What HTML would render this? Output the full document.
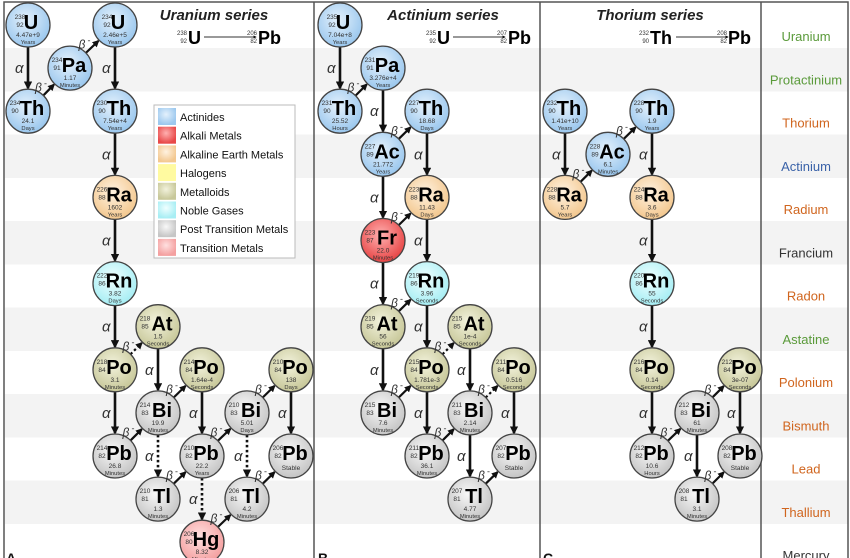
<!DOCTYPE html>
<html><head><meta charset="utf-8"><style>
html,body{margin:0;padding:0;background:#fff}
svg{display:block}
text{font-family:"Liberation Sans","DejaVu Sans",sans-serif}
</style></head><body>
<svg id="s" width="850" height="558" viewBox="0 0 850 558" xmlns="http://www.w3.org/2000/svg">
<defs>
<marker id="ah" viewBox="0 0 10 10" refX="8" refY="5" markerWidth="3.2" markerHeight="3.2" orient="auto"><path d="M0,0 L10,5 L0,10 z" fill="#111"/></marker>
</defs>
<g id="bg"></g>
<g id="edges"></g>
<g id="nodes"></g>
<g id="txt"></g>
</svg>
<script>
const NS="http://www.w3.org/2000/svg";
function el(p,t,a,txt){const e=document.createElementNS(NS,t);for(const k in a)e.setAttribute(k,a[k]);if(txt!==undefined)e.textContent=txt;p.appendChild(e);return e;}
const bg=document.getElementById('bg'),E=document.getElementById('edges'),N=document.getElementById('nodes'),T=document.getElementById('txt');
const defs=document.querySelector('defs');
// stripes
for(let k=1;k<=11;k+=2){const y=48+43.25*(k-1);el(bg,'rect',{x:5,y:y,width:843,height:43.5,fill:'#f3f3f3'});}
// frame
el(bg,'rect',{x:4,y:2,width:844,height:570,fill:'none',stroke:'#555','stroke-width':1.5});
[314,540,761].forEach(x=>el(bg,'line',{x1:x,y1:2,x2:x,y2:558,stroke:'#555','stroke-width':1.5}));
// colors
const C={act:['#e4f1fc','#9cc8ee'],alk:['#ffb0b0','#e84848'],ae:['#fff2e0','#f3c890'],met:['#f2f2dc','#c8c89a'],nob:['#f0ffff','#a8eef4'],post:['#f8f8f8','#c6c6c6'],tr:['#ffe0e0','#f4a0a0']};
for(const k in C){const g=el(defs,'radialGradient',{id:'g'+k,cx:'45%',cy:'38%',r:'60%'});el(g,'stop',{offset:'0%','stop-color':C[k][0]});el(g,'stop',{offset:'100%','stop-color':C[k][1]});}
const Y=k=>25+43.1*k;
const R=22;
function node(x,k,m,z,sym,hl,unit,col){const y=Y(k);
 el(N,'circle',{cx:x,cy:y,r:R,fill:'url(#g'+col+')',stroke:'#444','stroke-width':1.3});
 const w=sym.length>1?1:0;
 el(N,'text',{x:x-13+(w?0:5),y:y-6,'font-size':6.5,fill:'#333','text-anchor':'middle'},m);
 el(N,'text',{x:x-13+(w?0:5),y:y+2,'font-size':6.5,fill:'#333','text-anchor':'middle'},z);
 el(N,'text',{x:x+(w?4:3),y:y+4,'font-size':20,'font-weight':'bold',fill:'#000','text-anchor':'middle'},sym);
 if(unit){el(N,'text',{x:x,y:y+12,'font-size':6.5,fill:'#333','text-anchor':'middle'},hl);
 el(N,'text',{x:x,y:y+19,'font-size':5.8,fill:'#333','text-anchor':'middle'},unit);}
 else el(N,'text',{x:x,y:y+14,'font-size':6.5,fill:'#333','text-anchor':'middle'},hl);
}
function arrow(x1,k1,x2,k2,type,dot){const y1=Y(k1),y2=Y(k2);const dx=x2-x1,dy=y2-y1,L=Math.hypot(dx,dy),ux=dx/L,uy=dy/L;
 const a={x1:x1+ux*R,y1:y1+uy*R,x2:x2-ux*(R+1),y2:y2-uy*(R+1),stroke:'#111','stroke-width':type=='a'?2.6:2.2,'marker-end':'url(#ah)'};
 if(dot)a['stroke-dasharray']='2.5,2.5';
 el(E,'line',a);
 if(type=='a'){el(T,'text',{x:(x1+x2)/2-13,y:(y1+y2)/2+5,'font-size':15,'font-style':'italic',fill:'#333','font-family':'DejaVu Serif,serif'},'α');}
 else{const mx=(x1+x2)/2,my=(y1+y2)/2;el(T,'text',{x:mx-14,y:my+2,'font-size':12,'font-style':'italic',fill:'#333','font-family':'DejaVu Serif,serif'},'β');
 el(T,'text',{x:mx-5,y:my-3,'font-size':9,fill:'#333'},'-');}
}
function series(cols,nodes,edges){const idx={};nodes.forEach(n=>{idx[n[0]]=n;});
 edges.forEach(e=>{const a=idx[e[0]],b=idx[e[1]];arrow(cols[a[1]],a[2],cols[b[1]],b[2],e[2],e[3]);});
 nodes.forEach(n=>node(cols[n[1]],n[2],n[3],n[4],n[5],n[6],n[7],n[8]));}
// Uranium
series([28,70,115,158,202,247,291],[
['U238',0,0,'238','92','U','4.47e+9','Years','act'],
['Th234',0,2,'234','90','Th','24.1','Days','act'],
['Pa234',1,1,'234','91','Pa','1.17','Minutes','act'],
['U234',2,0,'234','92','U','2.46e+5','Years','act'],
['Th230',2,2,'230','90','Th','7.54e+4','Years','act'],
['Ra226',2,4,'226','88','Ra','1602','Years','ae'],
['Rn222',2,6,'222','86','Rn','3.82','Days','nob'],
['Po218',2,8,'218','84','Po','3.1','Minutes','met'],
['At218',3,7,'218','85','At','1.5','Seconds','met'],
['Pb214',2,10,'214','82','Pb','26.8','Minutes','post'],
['Bi214',3,9,'214','83','Bi','19.9','Minutes','post'],
['Po214',4,8,'214','84','Po','1.64e-4','Seconds','met'],
['Tl210',3,11,'210','81','Tl','1.3','Minutes','post'],
['Pb210',4,10,'210','82','Pb','22.2','Years','post'],
['Hg206',4,12,'206','80','Hg','8.32','Minutes','tr'],
['Bi210',5,9,'210','83','Bi','5.01','Days','post'],
['Tl206',5,11,'206','81','Tl','4.2','Minutes','post'],
['Po210',6,8,'210','84','Po','138','Days','met'],
['Pb206',6,10,'206','82','Pb','Stable','','post']
],[
['U238','Th234','a'],['Th234','Pa234','b'],['Pa234','U234','b'],['U234','Th230','a'],['Th230','Ra226','a'],['Ra226','Rn222','a'],['Rn222','Po218','a'],
['Po218','At218','b',1],['Po218','Pb214','a'],['At218','Bi214','a'],['Pb214','Bi214','b'],['Bi214','Po214','b'],['Bi214','Tl210','a',1],['Po214','Pb210','a'],
['Tl210','Pb210','b'],['Pb210','Bi210','b'],['Pb210','Hg206','a',1],['Bi210','Tl206','a',1],['Bi210','Po210','b'],['Hg206','Tl206','b'],['Tl206','Pb206','b'],['Po210','Pb206','a']
]);
// Actinium
series([340,383,427,470,514],[
['U235',0,0,'235','92','U','7.04e+8','Years','act'],
['Th231',0,2,'231','90','Th','25.52','Hours','act'],
['Pa231',1,1,'231','91','Pa','3.276e+4','Years','act'],
['Ac227',1,3,'227','89','Ac','21.772','Years','act'],
['Th227',2,2,'227','90','Th','18.68','Days','act'],
['Fr223',1,5,'223','87','Fr','22.0','Minutes','alk'],
['Ra223',2,4,'223','88','Ra','11.43','Days','ae'],
['Rn219',2,6,'219','86','Rn','3.96','Seconds','nob'],
['At219',1,7,'219','85','At','56','Seconds','met'],
['Bi215',1,9,'215','83','Bi','7.6','Minutes','post'],
['Po215',2,8,'215','84','Po','1.781e-3','Seconds','met'],
['At215',3,7,'215','85','At','1e-4','Seconds','met'],
['Pb211',2,10,'211','82','Pb','36.1','Minutes','post'],
['Bi211',3,9,'211','83','Bi','2.14','Minutes','post'],
['Po211',4,8,'211','84','Po','0.516','Seconds','met'],
['Tl207',3,11,'207','81','Tl','4.77','Minutes','post'],
['Pb207',4,10,'207','82','Pb','Stable','','post']
],[
['U235','Th231','a'],['Th231','Pa231','b'],['Pa231','Ac227','a'],['Ac227','Th227','b'],['Ac227','Fr223','a'],['Th227','Ra223','a'],['Fr223','Ra223','b'],
['Ra223','Rn219','a'],['Fr223','At219','a'],['At219','Rn219','b'],['Rn219','Po215','a'],['At219','Bi215','a'],['Bi215','Po215','b'],['Po215','At215','b',1],
['Po215','Pb211','a'],['At215','Bi211','a'],['Pb211','Bi211','b'],['Bi211','Po211','b',1],['Bi211','Tl207','a'],['Po211','Pb207','a'],['Tl207','Pb207','b']
]);
// Thorium
series([565,608,652,697,740],[
['Th232',0,2,'232','90','Th','1.41e+10','Years','act'],
['Ra228',0,4,'228','88','Ra','5.7','Years','ae'],
['Ac228',1,3,'228','89','Ac','6.1','Minutes','act'],
['Th228',2,2,'228','90','Th','1.9','Years','act'],
['Ra224',2,4,'224','88','Ra','3.6','Days','ae'],
['Rn220',2,6,'220','86','Rn','55','Seconds','nob'],
['Po216',2,8,'216','84','Po','0.14','Seconds','met'],
['Pb212',2,10,'212','82','Pb','10.6','Hours','post'],
['Bi212',3,9,'212','83','Bi','61','Minutes','post'],
['Po212',4,8,'212','84','Po','3e-07','Seconds','met'],
['Tl208',3,11,'208','81','Tl','3.1','Minutes','post'],
['Pb208',4,10,'208','82','Pb','Stable','','post']
],[
['Th232','Ra228','a'],['Ra228','Ac228','b'],['Ac228','Th228','b'],['Th228','Ra224','a'],['Ra224','Rn220','a'],['Rn220','Po216','a'],['Po216','Pb212','a'],
['Pb212','Bi212','b'],['Bi212','Po212','b'],['Bi212','Tl208','a'],['Po212','Pb208','a'],['Tl208','Pb208','b']
]);
// titles
[[214,'Uranium series'],[443,'Actinium series'],[650,'Thorium series']].forEach(t=>el(T,'text',{x:t[0],y:20,'font-size':15,'font-weight':'bold','font-style':'italic',fill:'#222','text-anchor':'middle'},t[1]));
function formula(x,m1,z1,s1,x2,m2,z2,s2){const y=44;
 el(T,'text',{x:x,y:y-9,'font-size':6,fill:'#333','text-anchor':'end'},m1);el(T,'text',{x:x,y:y-1,'font-size':6,fill:'#333','text-anchor':'end'},z1);
 el(T,'text',{x:x+1,y:y,'font-size':18,'font-weight':'bold',fill:'#000'},s1);
 const ax=x+(s1.length>1?27:17);el(E,'line',{x1:ax,y1:y-7,x2:ax+52,y2:y-7,stroke:'#333','stroke-width':1,'marker-end':'url(#ah)'});
 el(T,'text',{x:x2,y:y-9,'font-size':6,fill:'#333','text-anchor':'end'},m2);el(T,'text',{x:x2,y:y-1,'font-size':6,fill:'#333','text-anchor':'end'},z2);
 el(T,'text',{x:x2+1,y:y,'font-size':18,'font-weight':'bold',fill:'#000'},s2);}
formula(187,'238','92','U',257,'206','82','Pb');
formula(436,'235','92','U',507,'207','82','Pb');
formula(649,'232','90','Th',727,'208','82','Pb');
// legend
el(T,'rect',{x:154,y:105,width:141,height:153,fill:'#fff',stroke:'#bbb','stroke-width':1});
[['act','Actinides'],['alk','Alkali Metals'],['ae','Alkaline Earth Metals'],['hal','Halogens'],['met','Metalloids'],['nob','Noble Gases'],['post','Post Transition Metals'],['tr','Transition Metals']].forEach((l,i)=>{const y=108+i*18.7;
 const f=l[0]=='hal'?'#fffaa0':'url(#g'+l[0]+')';el(T,'rect',{x:158,y:y,width:18,height:17,fill:f});
 el(T,'text',{x:180,y:y+13,'font-size':11,fill:'#111'},l[1]);});
// right labels
[['Uranium','#5a9a3a'],['Protactinium','#5a9a3a'],['Thorium','#d0651e'],['Actinium','#3a62a8'],['Radium','#d0651e'],['Francium','#333'],['Radon','#d0651e'],['Astatine','#5a9a3a'],['Polonium','#d0651e'],['Bismuth','#d0651e'],['Lead','#d0651e'],['Thallium','#d0651e'],['Mercury','#333']].forEach((l,i)=>{
 el(T,'text',{x:806,y:41+43.25*i,'font-size':13,fill:l[1],'text-anchor':'middle'},l[0]);});
[[6,'A'],[318,'B'],[543,'C']].forEach(l=>el(T,'text',{x:l[0],y:563,'font-size':14,'font-weight':'bold',fill:'#111'},l[1]));
</script>
</body></html>
